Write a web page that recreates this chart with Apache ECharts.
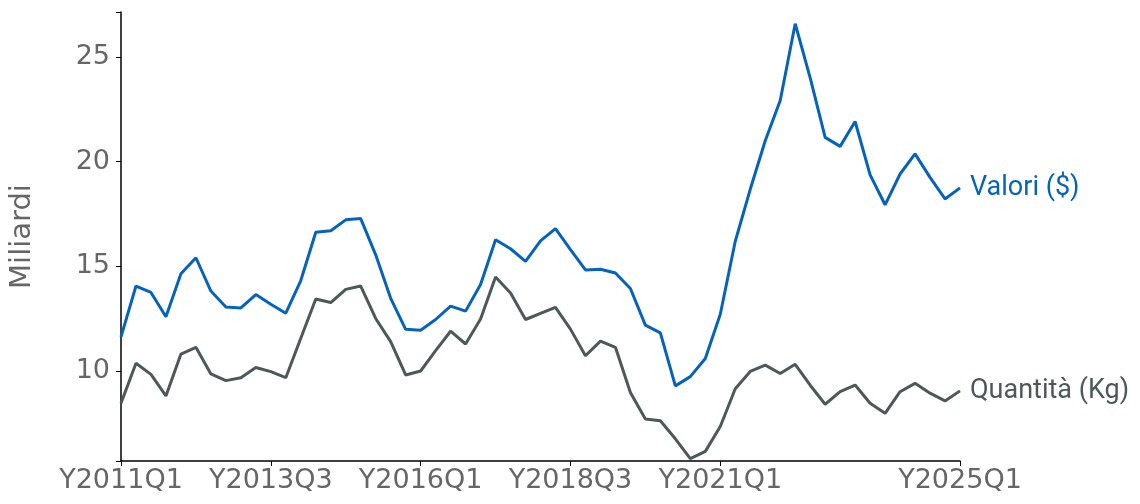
<!DOCTYPE html>
<html>
<head>
<meta charset="utf-8">
<script src="https://cdn.jsdelivr.net/npm/echarts@6/dist/echarts.min.js"></script>
<style>
html,body{margin:0;padding:0;background:#fff;}
#chart{width:1140px;height:504px;}
</style>
</head>
<body>
<div id="chart"></div>
<script>
const categories = [
  "Y2011Q1","Y2011Q2","Y2011Q3","Y2011Q4",
  "Y2012Q1","Y2012Q2","Y2012Q3","Y2012Q4",
  "Y2013Q1","Y2013Q2","Y2013Q3","Y2013Q4",
  "Y2014Q1","Y2014Q2","Y2014Q3","Y2014Q4",
  "Y2015Q1","Y2015Q2","Y2015Q3","Y2015Q4",
  "Y2016Q1","Y2016Q2","Y2016Q3","Y2016Q4",
  "Y2017Q1","Y2017Q2","Y2017Q3","Y2017Q4",
  "Y2018Q1","Y2018Q2","Y2018Q3","Y2018Q4",
  "Y2019Q1","Y2019Q2","Y2019Q3","Y2019Q4",
  "Y2020Q1","Y2020Q2","Y2020Q3","Y2020Q4",
  "Y2021Q1","Y2021Q2","Y2021Q3","Y2021Q4",
  "Y2022Q1","Y2022Q2","Y2022Q3","Y2022Q4",
  "Y2023Q1","Y2023Q2","Y2023Q3","Y2023Q4",
  "Y2024Q1","Y2024Q2","Y2024Q3","Y2024Q4",
  "Y2025Q1"
];

const valoriName = "Valori ($)";
const valori = [
  11.63, 14.06, 13.75, 12.59, 14.65, 15.41, 13.82, 13.06, 13.01, 13.65,
  13.19, 12.76, 14.32, 16.63, 16.70, 17.22, 17.28, 15.55, 13.47, 11.99,
  11.95, 12.46, 13.10, 12.86, 14.13, 16.27, 15.84, 15.24, 16.22, 16.80,
  15.80, 14.83, 14.86, 14.68, 13.94, 12.19, 11.82, 9.29, 9.73, 10.60,
  12.71, 16.20, 18.68, 21.00, 22.92, 26.59, 24.00, 21.16, 20.73, 21.92,
  19.37, 17.94, 19.41, 20.37, 19.25, 18.22, 18.75
];

const quantitaName = "Quantità (Kg)";
const quantita = [
  8.46, 10.37, 9.84, 8.81, 10.81, 11.13, 9.86, 9.54, 9.68, 10.17,
  9.97, 9.68, 11.56, 13.44, 13.27, 13.90, 14.06, 12.51, 11.40, 9.81,
  10.00, 10.97, 11.90, 11.29, 12.48, 14.49, 13.73, 12.46, 12.75, 13.04,
  12.00, 10.73, 11.43, 11.13, 8.97, 7.71, 7.62, 6.76, 5.81, 6.16,
  7.35, 9.15, 9.98, 10.28, 9.88, 10.32, 9.32, 8.41, 9.01, 9.33,
  8.46, 7.98, 9.01, 9.41, 8.94, 8.57, 9.05
];

const yAxisName = "Miliardi";
const yMin = 5.7;
const yMax = 27.15;
const yTickLabels = [10, 15, 20, 25];

const blue = "#0563BE";
const gray = "#4D5858";

function showIdx(i) {
  return (i % 10 === 0 && i <= 40) || i === categories.length - 1;
}

const chart = echarts.init(document.getElementById('chart'), null, {renderer: 'canvas'});
chart.setOption({
  animation: false,
  grid: {left: 120, right: 180, top: 12, bottom: 43, containLabel: false},
  xAxis: {
    type: 'category',
    data: categories,
    boundaryGap: false,
    axisLine: {show: true, lineStyle: {color: '#000', width: 1.5}},
    axisTick: {show: true, length: 5, interval: function (i) { return showIdx(i); }, lineStyle: {color: '#000'}},
    axisLabel: {
      interval: function (i) { return showIdx(i); },
      fontFamily: 'DejaVu Sans',
      fontSize: 27,
      color: '#666666',
      margin: 6
    },
    splitLine: {show: false}
  },
  yAxis: {
    type: 'value',
    min: yMin,
    max: yMax,
    name: yAxisName,
    nameLocation: 'middle',
    nameGap: 84,
    nameRotate: 90,
    nameTextStyle: {fontFamily: 'DejaVu Sans', fontSize: 29, color: '#666666'},
    axisLine: {show: true, lineStyle: {color: '#000', width: 1.5}},
    axisTick: {show: true, length: 5, customValues: [yMin].concat(yTickLabels, [yMax]), lineStyle: {color: '#000'}},
    axisLabel: {
      customValues: yTickLabels,
      fontFamily: 'DejaVu Sans',
      fontSize: 27,
      color: '#666666',
      margin: 11
    },
    splitLine: {show: false}
  },
  series: [
    {
      name: valoriName,
      type: 'line',
      data: valori,
      showSymbol: false,
      symbol: 'none',
      lineStyle: {color: blue, width: 3},
      itemStyle: {color: blue},
      endLabel: {
        show: true,
        formatter: '{a}',
        distance: 10,
        fontFamily: 'Roboto',
        fontSize: 27,
        color: blue
      }
    },
    {
      name: quantitaName,
      type: 'line',
      data: quantita,
      showSymbol: false,
      symbol: 'none',
      lineStyle: {color: gray, width: 3},
      itemStyle: {color: gray},
      endLabel: {
        show: true,
        formatter: '{a}',
        distance: 10,
        fontFamily: 'Roboto',
        fontSize: 27,
        color: gray
      }
    }
  ]
});
</script>
</body>
</html>
